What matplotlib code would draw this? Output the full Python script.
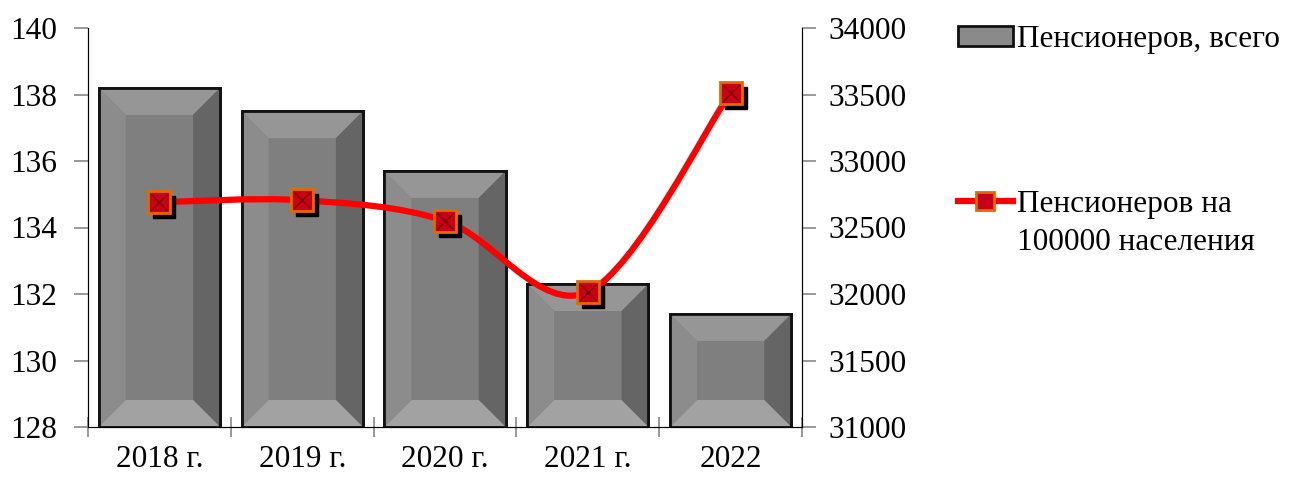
import numpy as np
import matplotlib.pyplot as plt
from matplotlib.patches import Polygon, Patch
from matplotlib.lines import Line2D
from matplotlib.path import Path
from matplotlib.patches import PathPatch
from matplotlib.transforms import offset_copy

plt.rcParams['font.family'] = ['Liberation Serif', 'DejaVu Serif']
plt.rcParams['font.size'] = 22.5

# data
years = ["2018 г.", "2019 г.", "2020 г.", "2021 г.", "2022"]
pens_total = [138.2, 137.5, 135.7, 132.3, 131.4]
pens_per100k = [32690, 32705, 32550, 32015, 33515]

label_total = "Пенсионеров, всего"
label_rate = ["Пенсионеров на", "100000 населения"]

fig = plt.figure(figsize=(12.89, 4.78), dpi=100)
ax = fig.add_axes([88 / 1289, 1 - 427 / 478, (802 - 88) / 1289, (427 - 28) / 478])
ax2 = ax.twinx()

x = np.arange(len(years))
bar_w = 0.85
ax.set_xlim(-0.5, len(years) - 0.5)
ax.set_ylim(128, 140)
ax2.set_ylim(31000, 34000)

ax.bar(x, [v - 128 for v in pens_total], bottom=128, width=bar_w,
       color='#7f7f7f', edgecolor='#111111', linewidth=2, zorder=2)

# bevel effect on bars
to_disp = ax.transData
to_data = ax.transData.inverted()
bev = 27  # pixels
for xi, top in zip(x, pens_total):
    (px0, py0) = to_disp.transform((xi - bar_w / 2, 128))
    (px1, py1) = to_disp.transform((xi + bar_w / 2, top))
    o = [(px0, py1), (px1, py1), (px1, py0), (px0, py0)]
    i = [(px0 + bev, py1 - bev), (px1 - bev, py1 - bev), (px1 - bev, py0 + bev), (px0 + bev, py0 + bev)]
    faces = [
        ([o[0], o[1], i[1], i[0]], '#969696'),   # top
        ([o[1], o[2], i[2], i[1]], '#656565'),   # right
        ([o[2], o[3], i[3], i[2]], '#a2a2a2'),   # bottom
        ([o[3], o[0], i[0], i[3]], '#8c8c8c'),   # left
    ]
    for pts, c in faces:
        ax.add_patch(Polygon(to_data.transform(pts), closed=True, facecolor=c,
                             edgecolor='none', zorder=2.5))
    ax.add_patch(Polygon(to_data.transform(o), closed=True, facecolor='none',
                         edgecolor='#111111', linewidth=2, zorder=2.6))

# smoothed line (Catmull-Rom as cubic Bezier)
pts = np.column_stack([x, pens_per100k]).astype(float)
verts = [pts[0]]
codes = [Path.MOVETO]
n = len(pts)
for k in range(n - 1):
    p0 = pts[max(k - 1, 0)]
    p1 = pts[k]
    p2 = pts[k + 1]
    p3 = pts[min(k + 2, n - 1)]
    c1 = p1 + (p2 - p0) / 6
    c2 = p2 - (p3 - p1) / 6
    verts += [c1, c2, p2]
    codes += [Path.CURVE4] * 3
ax2.add_patch(PathPatch(Path(verts, codes), facecolor='none', edgecolor='#ff0000',
                        linewidth=4.5, capstyle='round', zorder=3))

shadow = offset_copy(ax2.transData, fig=fig, x=5, y=-5, units='dots')
ax2.plot(x, pens_per100k, 's', color='black', markersize=16, transform=shadow, zorder=4)
ax2.plot(x, pens_per100k, 's', markerfacecolor='#c8001a', markeredgecolor='#e06a00',
         markeredgewidth=2, markersize=16, zorder=5)
ax2.plot(x, pens_per100k, 'x', color='#7a0000', markersize=12, markeredgewidth=1, zorder=6)

# axes styling
ax.set_xticks(np.arange(-0.5, len(years), 1))
ax.set_xticklabels([])
ax.set_xticks(x, minor=True)
ax.set_xticklabels(years, minor=True)
ax.tick_params(axis='x', which='major', direction='inout', length=14, color='#888888', width=1.2)
ax.tick_params(axis='x', which='minor', length=0, pad=13)
ax.set_yticks(np.arange(128, 141, 2))
ax.tick_params(axis='y', direction='out', length=10, color='#888888', width=1.2, pad=12)
ax2.set_yticks(np.arange(31000, 34001, 500))
ax2.tick_params(axis='y', direction='out', length=10, color='#888888', width=1.2, pad=9)

for a in (ax, ax2):
    a.spines['top'].set_visible(False)
    for s in ('left', 'right', 'bottom'):
        a.spines[s].set_color('black')
    a.set_facecolor('none')

handles = [
    Patch(facecolor='#8a8a8a', edgecolor='#111111', linewidth=2),
    Line2D([0], [0], color='#ff0000', linewidth=4.5, marker='s', markersize=13,
           markerfacecolor='#c8001a', markeredgecolor='#e06a00', markeredgewidth=2),
]
leg = fig.legend(handles, [label_total, label_rate[0]], loc='upper left',
                 bbox_to_anchor=(958 / 1289, 1 - 25 / 478), frameon=False,
                 labelspacing=4.35, handlelength=1.75, handleheight=0.6,
                 handletextpad=0.15, borderaxespad=0, borderpad=0)

# second line of the second legend label, placed under the first line
fig.canvas.draw()
t = leg.get_texts()[1]
bb = t.get_window_extent()
W, H = fig.bbox.width, fig.bbox.height
fig.text(bb.x0 / W, ((bb.y0 + bb.y1) / 2 - 38) / H, label_rate[1],
         ha='left', va='center', fontsize=plt.rcParams['font.size'])

fig.savefig('out.png', dpi=100)
